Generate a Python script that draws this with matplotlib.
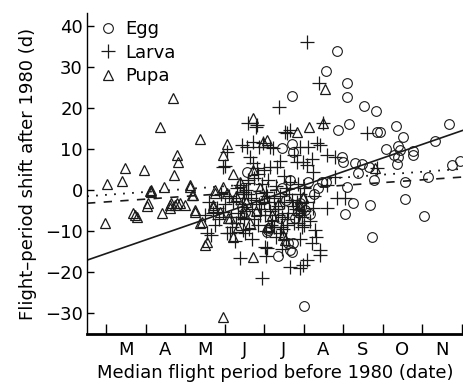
import numpy as np
import matplotlib
matplotlib.use("Agg")
import matplotlib.pyplot as plt

plt.rcParams["font.family"] = ["DejaVu Sans"]

# x = month position (3 = 1 March ... 12 = 1 December), y = shift in days
egg_x = [8.84, 8.56, 9.09, 9.09, 7.70, 9.52, 9.83, 9.14, 8.86, 10.33, 11.67, 9.85,
         9.92, 10.51, 11.32, 10.08, 10.38, 10.43, 10.76, 10.76, 10.28, 10.38, 10.36,
         11.95, 11.75, 11.14, 10.56, 9.77, 9.37, 9.29, 9.47, 9.65, 8.97, 8.99, 7.70,
         7.73, 7.45, 6.56, 8.10, 9.09, 10.56, 9.24, 9.67, 9.04, 11.04, 9.72, 8.00,
         8.16, 7.73, 7.70, 7.35, 7.40, 7.10, 7.13, 7.78, 7.85, 7.90, 8.46, 8.56,
         7.65, 7.60, 8.03, 7.07, 6.44, 6.51, 7.65, 7.45, 8.25, 7.55, 8.35]
egg_y = [33.9, 29.0, 26.1, 22.7, 22.9, 20.5, 19.3, 16.1, 14.6, 15.6, 16.1, 14.1,
         14.1, 12.9, 12.0, 10.0, 10.7, 9.8, 9.5, 8.5, 8.5, 8.0, 6.3,
         7.1, 6.1, 3.2, 2.0, 2.4, 4.1, 6.6, 6.3, 5.6, 8.0, 6.8, 11.2,
         9.3, 10.2, 4.4, 2.0, 0.7, -2.2, -3.2, -3.7, -5.9, -6.3, -11.5, -28.3,
         -5.9, -12.9, -15.1, -16.1, -6.8, -9.8, -9.3, -6.8, -5.4, -3.2, 2.0, 2.0,
         -14.6, -12.9, -4.9, -10.3, -4.1, -5.4, 2.4, 0.5, -1.0, -2.5, 0.5]

larva_x = [8.08, 8.38, 7.37, 9.60, 6.79, 7.58, 6.01, 6.06, 6.56, 6.87, 7.22, 8.10,
           8.41, 8.59, 8.79, 7.83, 8.08, 9.85, 8.79, 8.59, 8.49,
           6.94, 6.39, 7.07, 7.65, 7.90, 8.08, 8.41, 8.41, 8.28, 8.00, 8.59, 8.84,
           9.04, 8.23, 7.85, 7.58, 7.40, 6.51, 6.06,
           7.52, 7.65, 6.82, 6.72, 6.97, 7.15, 7.90, 8.33, 7.98, 7.32, 7.15, 6.82,
           6.72, 8.23,
           5.70, 5.81, 5.96, 5.55, 6.13, 6.18, 6.46, 6.31, 6.39, 6.46, 6.59,
           5.96, 6.44, 6.59, 7.02, 7.98,
           6.30, 6.45, 6.60, 6.70, 6.80, 6.90, 7.00, 7.05, 7.15, 7.20, 7.25, 7.35,
           7.40, 7.45, 7.50, 7.55, 7.60, 7.70, 7.75, 7.80, 7.90, 7.95, 8.05, 8.15,
           8.25, 8.30, 6.60, 6.75, 6.95, 7.10, 7.30, 7.50, 7.65, 7.85, 8.00, 6.85,
           7.05, 7.30, 7.55, 6.50, 6.35, 6.20, 6.10, 6.00, 5.90, 5.85, 6.25, 6.70,
           7.45, 7.90, 8.20, 5.75, 5.65, 6.15, 6.55, 7.00, 7.40, 6.65, 7.75, 8.20,
           7.05, 5.60, 5.50,
           6.40, 6.55, 6.75, 6.88, 7.02, 7.18, 7.28, 7.42, 7.58, 7.72, 7.88, 8.02,
           6.48, 6.66, 6.92, 7.12, 7.34, 7.62, 7.82, 6.28, 6.62, 7.08, 7.48, 7.95,
           6.85, 7.25]
larva_y = [36.1, 26.1, 20.2, 13.9, 15.4, 13.9, 5.9, 9.3, 10.5, 10.5, 10.2, 10.5,
           11.0, 8.5, 8.0, 6.8, 6.1, 5.4, 3.2, 1.2, 16.3,
           -21.5, -16.6, -14.1, -18.8, -19.0, -17.1, -14.6, -15.9, -9.8, -8.5, -4.4, -2.0,
           -2.0, -4.4, -8.0, -8.5, -10.5, -10.5, -10.5,
           14.1, 14.6, 15.9, 11.7, 11.5, 10.5, 10.5, 11.5, 6.8, 5.6, 5.6, 5.4,
           6.6, 4.4,
           -5.6, -4.4, -5.4, -10.5, -10.5, -9.0, -9.8, 0.5, 1.2, -0.5, 1.7,
           5.6, 11.0, 16.3, -13.9, -18.3,
           -2.0, -3.5, -1.0, -4.5, -2.5, -6.0, -3.0, -0.5, -5.0, -7.5, -2.0, -4.0,
           -1.5, -6.5, -3.0, 0.5, -5.5, -2.5, -8.0, -4.5, -1.0, -6.5, -3.0, -7.5,
           -1.5, -11.5, 2.5, 3.0, 1.5, 2.5, 1.0, 3.5, 2.0, 1.5, 0.5, -8.5,
           -10.0, -11.5, -12.0, -7.0, -5.5, -3.0, -1.5, -3.5, -1.0, -7.0, -12.5, -12.0,
           -14.5, -12.0, -13.0, -8.5, -11.0, -6.5, 0.0, 5.0, 7.0, 8.0, 8.5, 7.5,
           -16.0, -3.0, -6.0,
           -6.5, -5.0, -7.0, -3.5, -6.0, -8.5, -4.5, -9.0, -7.0, -4.0, -6.0, -5.0,
           -1.0, -2.0, -4.5, -3.0, -6.0, -1.0, -3.0, -8.0, -9.5, -1.5, -9.5, -9.0,
           4.0, -9.0]

pupa_x = [3.03, 3.40, 3.48, 3.96, 4.14, 4.14, 4.11, 4.47, 4.37, 4.69, 4.79, 4.82,
          4.72, 5.12, 5.38, 5.20, 5.76, 6.06,
          2.97, 3.68, 3.73, 3.78, 4.04, 4.07, 4.42, 4.62, 4.64, 4.62, 4.79, 5.00,
          5.25, 5.38, 5.50, 5.55, 5.96, 5.70, 5.88,
          6.72, 7.07, 7.83, 8.13, 8.49, 6.97, 6.72, 9.80, 8.54,
          6.72, 6.21, 7.52, 7.98, 7.90, 6.08,
          5.12, 5.17, 4.87, 4.74, 5.25, 5.76, 5.70, 5.43, 6.13, 5.96, 6.06,
          7.90, 7.98, 7.47,
          6.30, 6.55, 6.80, 7.00, 7.20, 6.40, 6.65, 6.90, 7.35, 6.20, 5.95, 6.50,
          7.10, 6.35]
pupa_y = [1.5, 2.2, 5.4, 4.9, 0.0, -0.5, -0.2, 0.7, 15.4, 22.4, 8.5, 6.8,
          3.7, 1.2, 12.4, -1.2, 0.0, 11.2,
          -8.0, -5.6, -6.1, -6.6, -3.9, -3.2, -5.6, -3.7, -3.2, -4.4, -3.2, -3.7,
          -4.9, -8.0, -13.4, -12.7, -31.0, -4.1, -5.4,
          17.6, 12.2, 14.1, 15.4, 16.3, 11.7, 4.9, 5.4, 24.6,
          -16.3, -11.5, -12.2, -2.0, -3.7, -6.8,
          0.7, -1.2, -3.2, -3.7, -5.4, -0.7, -3.7, -7.8, -6.8, 0.7, -0.7,
          -4.4, -1.7, -11.0,
          -1.5, -3.0, -5.0, -2.0, -6.0, 2.0, -8.0, 0.5, -3.5, 4.0, 8.5, -5.5,
          -9.0, -9.0]

# fitted lines: (slope, intercept) in days per month
fit_solid = (3.333, -25.5)
fit_dashed = (0.673, -4.9)
fit_dotted = (0.705, -3.28)

months = ["M", "A", "M", "J", "J", "A", "S", "O", "N"]


def draw():
    fig = plt.figure(figsize=(4.63, 3.86), dpi=100)
    ax = fig.add_axes([0.188, 0.135, 0.812, 0.831])

    ax.plot(egg_x, egg_y, "o", ms=7, mfc="none", mec="#1a1a1a", mew=0.8, label="Egg")
    ax.plot(larva_x, larva_y, "+", ms=10, mec="#1a1a1a", mew=0.9, label="Larva")
    ax.plot(pupa_x, pupa_y, "^", ms=7.5, mfc="none", mec="#1a1a1a", mew=0.9, label="Pupa")

    xl = (2.52, 12.03)
    xs = np.array(xl)
    ax.plot(xs, np.polyval(fit_solid, xs), "-", color="#1a1a1a", lw=1.2)
    ax.plot(xs, np.polyval(fit_dashed, xs), color="#1a1a1a", lw=1.2,
            dashes=(5, 5))
    ax.plot(xs, np.polyval(fit_dotted, xs), color="#1a1a1a", lw=1.3,
            dashes=(1, 4))

    ax.set_xlim(*xl)
    ax.set_ylim(-35.1, 43.2)

    ax.set_xticks(range(3, 13))
    ax.set_xticklabels([])
    ax.set_xticks([m + 0.5 for m in range(3, 12)], minor=True)
    ax.set_xticklabels(months, minor=True)
    ax.tick_params(axis="x", which="major", direction="in", length=7, width=1)
    ax.tick_params(axis="x", which="minor", length=0, pad=5, labelsize=13)
    ax.set_yticks(range(-30, 41, 10))
    ax.set_yticklabels(["\u221230", "\u221220", "\u221210", "0", "10", "20", "30", "40"])
    ax.tick_params(axis="y", direction="in", length=5, width=1, pad=3, labelsize=13)

    for s in ["top", "right"]:
        ax.spines[s].set_visible(False)
    ax.spines["bottom"].set_linewidth(2)
    ax.spines["left"].set_linewidth(1)

    ax.set_xlabel("Median flight period before 1980 (date)", fontsize=13, labelpad=4)
    ax.set_ylabel("Flight\u2013period shift after 1980 (d)", fontsize=13, labelpad=6)

    ax.legend(loc="upper left", frameon=False, fontsize=13, handletextpad=0.2,
              borderaxespad=0.0, labelspacing=0.3, handlelength=1.5,
              bbox_to_anchor=(0.0, 1.0))

    fig.savefig("out.png", dpi=100)


if __name__ == "__main__":
    draw()
